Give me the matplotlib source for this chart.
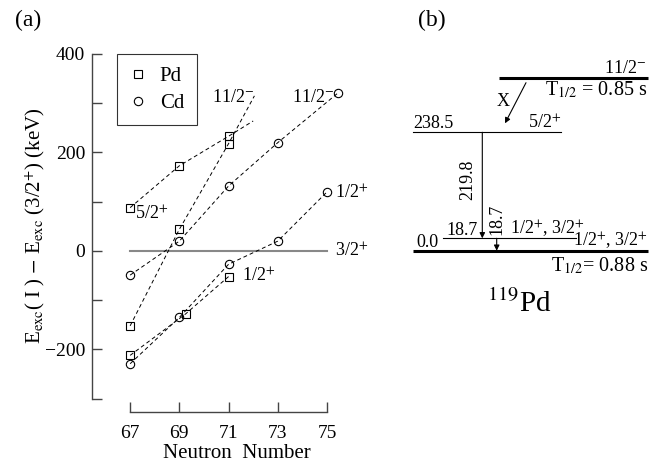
import matplotlib
matplotlib.use('Agg')
import matplotlib.pyplot as plt
from matplotlib.lines import Line2D

plt.rcParams['font.family'] = ['Liberation Serif', 'DejaVu Serif']
plt.rcParams['mathtext.fontset'] = 'stix'
plt.rcParams['font.size'] = 14

# ---- panel (a) data: E_exc(I) - E_exc(3/2+) in keV ----
pd_52_n = [67, 69, 71]
pd_52_e = [88, 173, 233]
pd_112_n = [67, 69, 71]
pd_112_e = [-152, 44, 218]
pd_12_n = [67, 69.25, 71]
pd_12_e = [-212, -128, -52]

cd_112_n = [67, 69, 71, 73, 75.45]
cd_112_e = [-49, 20, 132, 220, 321]
cd_12_n = [67, 69, 71, 73, 75]
cd_12_e = [-229, -135, -27, 20, 120]

# dashed systematics extended past the last Pd point
pd_52_ext = (72.0, 264)
pd_112_ext = (72.05, 315)

x_ticks = [67, 69, 71, 73, 75]

# ---- panel (b) data: 119Pd level scheme ----
level_energies = ['0.0', '18.7', '238.5']
level_spins = ['1/2$^{+}$, 3/2$^{+}$', '1/2$^{+}$, 3/2$^{+}$', '5/2$^{+}$']
gamma_energies = ['219.8', '18.7']
isomer_spin = '11/2$^{-}$'
isomer_half_life = '0.85 s'
ground_half_life = '0.88 s'

fig = plt.figure(figsize=(6.51, 4.63), dpi=100)
W, H = 651, 463

# axes placed in pixel terms
ax = fig.add_axes([92 / W, 1 - 412 / H, (351.6 - 92) / W, (412 - 54) / H])
ax.set_xlim(65.45, 76.0)
ax.set_ylim(-327, 400)

dash = (0, (4, 3))
lkw = dict(color='black', lw=0.7, linestyle=dash, zorder=2)
ax.plot(pd_52_n + [pd_52_ext[0]], pd_52_e + [pd_52_ext[1]], **lkw)
ax.plot(pd_112_n + [pd_112_ext[0]], pd_112_e + [pd_112_ext[1]], **lkw)
ax.plot(pd_12_n, pd_12_e, **lkw)
ax.plot(cd_112_n, cd_112_e, **lkw)
ax.plot(cd_12_n, cd_12_e, **lkw)

ax.plot([67, 75], [0, 0], color='#888888', lw=1.5, zorder=1)

mkw = dict(linestyle='none', mfc='none', mec='black', mew=0.8, ms=6, zorder=3)
for n, e in [(pd_52_n, pd_52_e), (pd_112_n, pd_112_e), (pd_12_n, pd_12_e)]:
    ax.plot(n, e, marker='s', **mkw)
for n, e in [(cd_112_n, cd_112_e), (cd_12_n, cd_12_e)]:
    ax.plot(n, e, marker='o', **mkw)

tkw = dict(fontsize=13, va='baseline', ha='left')
ax.text(70.33, 303, '11/2$^{-}$', **tkw)
ax.text(73.57, 303, '11/2$^{-}$', **tkw)
ax.text(67.2, 65, '5/2$^{+}$', **tkw)
ax.text(75.33, 107, '1/2$^{+}$', **tkw)
ax.text(75.33, -12, '3/2$^{+}$', **tkw)
ax.text(71.54, -62, '1/2$^{+}$', **tkw)

# detached axis look
for s in ['top', 'right']:
    ax.spines[s].set_visible(False)
ax.spines['left'].set_bounds(-300, 400)
ax.spines['bottom'].set_bounds(67, 75)
for s in ['left', 'bottom']:
    ax.spines[s].set_color('#444444')
    ax.spines[s].set_linewidth(1.0)
ax.set_xticks(x_ticks)
ax.set_xticklabels([str(t) for t in x_ticks])
ax.set_yticks([-200, 0, 200, 400])
ax.set_yticklabels(['\u2212200', '0', '200', '400'])
ax.set_yticks([-300, -100, 100, 300], minor=True)
ax.tick_params(which='both', direction='in', length=7.5, width=1.0,
               color='#444444', labelsize=14, pad=5)
ax.tick_params(axis='x', pad=9)
ax.set_xlabel('Neutron  Number', fontsize=15)
ax.xaxis.set_label_coords(0.558, -0.088)

handles = [Line2D([], [], marker='s', **mkw), Line2D([], [], marker='o', **mkw)]
leg = ax.legend(handles, ['Pd', 'Cd'], loc='upper left',
                bbox_to_anchor=((117 - 92) / (351.6 - 92), 1.0),
                fontsize=15, frameon=True, fancybox=False, handlelength=0.8,
                handletextpad=0.65, borderpad=0.6, labelspacing=0.35,
                borderaxespad=0)
leg.get_frame().set_edgecolor('black')
leg.get_frame().set_linewidth(0.8)

fig.text(35 / W, 1 - 226 / H,
         'E$_{\\rm exc}$( I ) $-$ E$_{\\rm exc}$ (3/2$^{+}$) (keV)',
         rotation=90, ha='center', va='center', fontsize=15)

# ---- panel (b): pixel-coordinate overlay ----
axb = fig.add_axes([0, 0, 1, 1], facecolor='none')
axb.set_xlim(0, W)
axb.set_ylim(H, 0)
axb.axis('off')

axb.text(28, 20, '(a)', fontsize=17, ha='center', va='center')
axb.text(432, 20, '(b)', fontsize=17, ha='center', va='center')

y_iso, y_238, y_187, y_gs = 78.3, 132.3, 238.3, 250.7
axb.plot([499, 648], [y_iso, y_iso], color='black', lw=2.2, solid_capstyle='butt')
axb.plot([413, 561], [y_238, y_238], color='black', lw=0.8)
axb.plot([443, 576], [y_187, y_187], color='black', lw=0.8)
axb.plot([413, 648], [y_gs, y_gs], color='black', lw=2.2, solid_capstyle='butt')

akw = dict(arrowstyle='-|>', lw=0.8, color='black', mutation_scale=8,
           shrinkA=0, shrinkB=0)
axb.annotate('', xy=(505, 123.3), xytext=(526, 82.7), arrowprops=akw)
axb.annotate('', xy=(482.3, y_187), xytext=(482.3, y_238), arrowprops=akw)
axb.annotate('', xy=(496.7, y_gs), xytext=(496.7, y_187), arrowprops=akw)

bkw = dict(fontsize=13, va='baseline')
axb.text(646, 73, isomer_spin, ha='right', **bkw)
axb.text(647, 95, 'T$_{1/2}$ = ' + isomer_half_life, ha='right', fontsize=14.5, va='baseline')
axb.text(503, 106, 'X', ha='center', **bkw)
axb.text(413, 128, level_energies[2], ha='left', **bkw)
axb.text(561, 128, level_spins[2], ha='right', **bkw)
axb.text(468, 180, gamma_energies[0], rotation=90, ha='center', va='center', fontsize=13)
axb.text(446.7, 235, level_energies[1], ha='left', **bkw)
axb.text(497, 219, gamma_energies[1], rotation=90, ha='center', va='center', fontsize=13)
axb.text(510, 235, level_spins[1], ha='left', **bkw)
axb.text(416, 247, level_energies[0], ha='left', **bkw)
axb.text(648, 247, level_spins[0], ha='right', **bkw)
axb.text(648, 271, 'T$_{1/2}$= ' + ground_half_life, ha='right', fontsize=14.5, va='baseline')
axb.text(487, 312, '$^{119}$Pd', ha='left', va='baseline', fontsize=21)

fig.savefig('out.png', dpi=100)
